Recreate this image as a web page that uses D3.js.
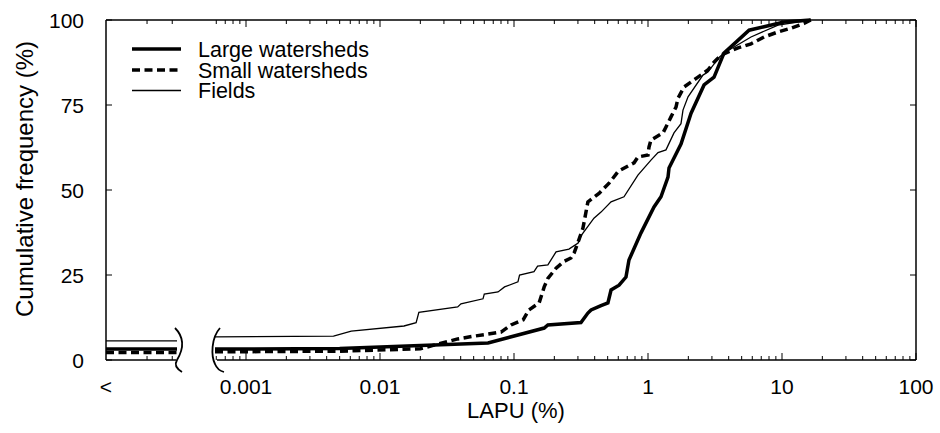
<!DOCTYPE html>
<html>
<head>
<meta charset="utf-8">
<script src="https://cdn.jsdelivr.net/npm/d3@7"></script>
<style>
  body { margin: 0; background: #fff; }
  text { font-family: "Liberation Sans", Arial, sans-serif; fill: #000; }
</style>
</head>
<body>
<svg id="chart" width="940" height="433"></svg>
<script>
// decade ticks on the log axis
const majorTicks = [0.001, 0.01, 0.1, 1, 10, 100];
const majorLabels = ["0.001", "0.01", "0.1", "1", "10", "100"];
const yTicks = [0, 25, 50, 75, 100];

const seriesNames = ["Large watersheds", "Small watersheds", "Fields"];
// share of samples below detection limit, shown in the "<" section
const belowLimit = [3.2, 2.2, 5.6];

// [LAPU %, cumulative frequency %]
const large = [
  [0.000587, 3.2], [0.005, 3.4], [0.0253, 4.4], [0.064, 5.0], [0.168, 9.4], [0.179, 10.3],
  [0.316, 11.0], [0.356, 13.8], [0.376, 14.7], [0.446, 16.0], [0.502, 16.8], [0.53, 20.6],
  [0.608, 22.0], [0.685, 24.4], [0.721, 29.4], [0.887, 37.4], [1.109, 45.0], [1.25, 48.0],
  [1.41, 53.8], [1.435, 56.5], [1.763, 63.5], [2.096, 72.6], [2.62, 80.9], [3.11, 83.2],
  [3.69, 90.3], [4.54, 93.5], [5.68, 97.0], [7.35, 98.0], [10.35, 99.4], [16.4, 100]
];
const small = [
  [0.000587, 2.4], [0.005, 2.6], [0.02, 3.3], [0.038, 6.2], [0.05, 7.0], [0.08, 8.2],
  [0.095, 10.3], [0.117, 11.8], [0.129, 14.7], [0.154, 16.8], [0.168, 21.5], [0.179, 24.0],
  [0.206, 27.0], [0.236, 29.0], [0.266, 30.0], [0.281, 31.5], [0.301, 34.7], [0.327, 38.8],
  [0.356, 46.5], [0.431, 49.0], [0.512, 52.0], [0.6, 55.5], [0.787, 58.0], [0.841, 59.7],
  [1.0, 60.3], [1.017, 62.6], [1.052, 64.7], [1.295, 66.8], [1.485, 71.5], [1.618, 74.4],
  [1.675, 77.0], [1.857, 80.3], [2.36, 83.2], [2.8, 85.3], [3.11, 87.6], [3.51, 89.7],
  [4.7, 91.8], [5.87, 93.0], [7.35, 95.0], [9.34, 96.5], [11.67, 97.6], [14.6, 99.0], [16.4, 100]
];
const fields = [
  [0.000587, 6.8], [0.0045, 7.0], [0.0061, 8.5], [0.0151, 10.0], [0.0186, 11.0], [0.0195, 14.0],
  [0.038, 15.6], [0.0402, 16.5], [0.0587, 18.0], [0.06, 19.4], [0.076, 20.0], [0.085, 21.5],
  [0.107, 23.0], [0.11, 25.0], [0.141, 26.0], [0.15, 27.6], [0.179, 28.0], [0.206, 31.8],
  [0.257, 32.6], [0.301, 34.4], [0.316, 36.5], [0.395, 41.7], [0.446, 43.5], [0.53, 46.5],
  [0.662, 48.0], [0.841, 54.4], [1.052, 58.8], [1.188, 61.0], [1.362, 61.8], [1.563, 66.8],
  [1.763, 69.5], [1.824, 73.5], [1.99, 77.4], [2.57, 83.8], [2.8, 84.7], [3.39, 89.0],
  [3.69, 90.3], [5.87, 95.0], [9.34, 98.5], [16.4, 100]
];

const allSeries = [large, small, fields];
const styles = [
  { width: 3.5, dash: null },
  { width: 3.5, dash: "8,4.5" },
  { width: 1.3, dash: null }
];

const svg = d3.select("#chart");
const pLeft = 106, pRight = 916, pTop = 20, pBottom = 360;
const breakL = 178, breakR = 215;

const x = d3.scaleLog().domain([0.000587, 100]).range([breakR, pRight]);
const xLess = d3.scaleLinear().domain([0, 1]).range([pLeft, breakL]);
const y = d3.scaleLinear().domain([0, 100]).range([pBottom, pTop]);

// frame lines
function frameLine(x1, y1, x2, y2) {
  svg.append("line").attr("x1", x1).attr("y1", y1).attr("x2", x2).attr("y2", y2)
    .attr("stroke", "#000").attr("stroke-width", 1.5);
}
frameLine(pLeft, pTop, pRight, pTop);
frameLine(pLeft, pTop, pLeft, pBottom);
frameLine(pRight, pTop, pRight, pBottom);
frameLine(pLeft, pBottom, breakL - 2, pBottom);
frameLine(breakR + 2, pBottom, pRight, pBottom);

// log axis ticks (bottom: pointing up, top: pointing down)
const minor = x.ticks().filter(d => !majorTicks.includes(d));
function tickSet(sel, vals, len, yPos, dir) {
  sel.selectAll(null).data(vals).enter().append("line")
    .attr("x1", d => x(d)).attr("x2", d => x(d))
    .attr("y1", yPos).attr("y2", yPos + dir * len)
    .attr("stroke", "#000").attr("stroke-width", 1);
}
const ticksG = svg.append("g");
tickSet(ticksG, majorTicks, 7, pBottom, -1);
tickSet(ticksG, minor, 4, pBottom, -1);
tickSet(ticksG, majorTicks, 7, pTop, 1);
tickSet(ticksG, minor, 4, pTop, 1);

// "<" section ticks
const lessTicks = [0.57, 0.92];
ticksG.selectAll(null).data(lessTicks).enter().append("line")
  .attr("x1", d => xLess(d)).attr("x2", d => xLess(d))
  .attr("y1", pBottom).attr("y2", pBottom - 4).attr("stroke", "#000");
ticksG.selectAll(null).data(lessTicks).enter().append("line")
  .attr("x1", d => xLess(d)).attr("x2", d => xLess(d))
  .attr("y1", pTop).attr("y2", pTop + 4).attr("stroke", "#000");

// y ticks on both sides
ticksG.selectAll(null).data(yTicks).enter().append("line")
  .attr("x1", pLeft).attr("x2", pLeft + 6).attr("y1", d => y(d)).attr("y2", d => y(d)).attr("stroke", "#000");
ticksG.selectAll(null).data(yTicks).enter().append("line")
  .attr("x1", pRight).attr("x2", pRight - 6).attr("y1", d => y(d)).attr("y2", d => y(d)).attr("stroke", "#000");

// tick labels
svg.selectAll(null).data(yTicks).enter().append("text")
  .attr("x", 84).attr("y", d => y(d)).attr("dy", "0.36em")
  .attr("text-anchor", "end").style("font-size", "21px").text(d => d);
svg.selectAll(null).data(majorTicks).enter().append("text")
  .attr("x", d => x(d)).attr("y", 394)
  .attr("text-anchor", "middle").style("font-size", "21px").text((d, i) => majorLabels[i]);
svg.append("text").attr("x", pLeft).attr("y", 394).attr("text-anchor", "middle")
  .style("font-size", "21px").text("<");

// axis titles
svg.append("text").attr("x", 516).attr("y", 418).attr("text-anchor", "middle")
  .style("font-size", "22px").text("LAPU (%)");
svg.append("text").attr("transform", "translate(33,179) rotate(-90)").attr("text-anchor", "middle")
  .style("font-size", "24px").text("Cumulative frequency (%)");

// axis break marks
const breaks = [
  "M175,328 C185,338 183,350 177,360 C174,365 177,369 182,372",
  "M220,328 C211,338 211,356 215,364 C217,369 220,371 224,372"
];
svg.selectAll(null).data(breaks).enter().append("path")
  .attr("d", d => d).attr("fill", "none").attr("stroke", "#000").attr("stroke-width", 1.8);

// curves
const line = d3.line().x(d => x(d[0])).y(d => y(d[1]));
const order = [2, 1, 0];
order.forEach(i => {
  const st = styles[i];
  svg.append("line")
    .attr("x1", pLeft).attr("x2", breakL - 1)
    .attr("y1", y(belowLimit[i])).attr("y2", y(belowLimit[i]))
    .attr("stroke", "#000").attr("stroke-width", st.width)
    .attr("stroke-dasharray", st.dash);
  svg.append("path").datum(allSeries[i])
    .attr("d", line).attr("fill", "none")
    .attr("stroke", "#000").attr("stroke-width", st.width)
    .attr("stroke-dasharray", st.dash);
});

// legend
const legendY = [49, 70, 90.5];
seriesNames.forEach((name, i) => {
  const st = styles[i];
  svg.append("line").attr("x1", 132).attr("x2", 181)
    .attr("y1", legendY[i]).attr("y2", legendY[i])
    .attr("stroke", "#000").attr("stroke-width", st.width)
    .attr("stroke-dasharray", st.dash);
  svg.append("text").attr("x", 198).attr("y", legendY[i]).attr("dy", "0.36em")
    .style("font-size", "21.5px").text(name);
});
</script>
</body>
</html>
